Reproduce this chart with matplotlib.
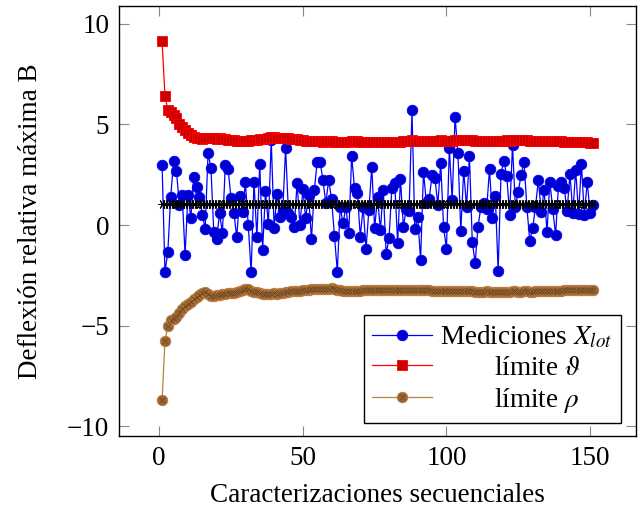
import numpy as np
import matplotlib
matplotlib.use("Agg")
import matplotlib.pyplot as plt
from matplotlib.legend_handler import HandlerTuple
from matplotlib.lines import Line2D

plt.rcParams['font.family'] = ['Liberation Serif', 'DejaVu Serif']
plt.rcParams['mathtext.fontset'] = 'stix'

# ---------------- data ----------------
mediciones = [
    2.98, -2.34, -1.33, 1.41, 3.17, 2.69, 1.00, 1.49, -1.48, 1.49,
    0.36, 2.37, 1.87, 1.41, 0.50, -0.18, 3.57, 2.84, -0.36, -0.71,
    0.58, -0.38, 2.98, 2.77, 1.33, 0.58, -0.61, 1.46, 0.66, 2.12,
    -0.02, -2.34, 2.14, -0.61, 3.02, -1.23, 1.67, 0.03, 4.23, -0.15,
    1.54, 0.41, 0.70, 3.82, 0.58, 0.38, -0.08, 2.07, 0.00, 1.77,
    0.33, 1.49, -0.71, 1.74, 3.15, 3.15, 2.24, 1.08, 2.24, 1.29,
    -0.55, -2.32, 0.91, 0.08, 0.90, -0.41, 3.43, 1.82, 1.58, -0.58,
    0.90, -1.20, 0.75, 2.90, -0.17, 1.40, -0.25, 1.74, -1.44, -0.66,
    1.82, 2.07, -0.88, 2.27, -0.08, 0.80, 0.70, 5.69, -0.21, 0.38,
    -1.74, 2.65, 1.10, 1.30, 2.49, 2.32, 1.00, 3.10, -0.08, -1.21,
    3.82, 1.24, 5.39, 3.57, -0.30, 2.69, 0.90, 3.43, -0.86, -1.87,
    -0.08, 0.90, 1.10, 0.80, 2.79, 0.33, 1.46, -2.27, 2.54, 3.20,
    2.44, 0.50, 3.98, 0.90, 1.66, 2.49, 3.15, 0.90, -0.78, -0.17,
    0.90, 2.24, 0.66, 1.74, -0.36, 2.16, 0.80, -0.50, 1.94, 2.16,
    1.82, 0.70, 2.54, 0.60, 2.74, 0.55, 3.03, 0.50, 2.16, 0.60,
    1.00,
]

limite_sup = [
    9.12, 6.42, 5.72, 5.59, 5.47, 5.31, 5.02, 4.86, 4.73, 4.59,
    4.48, 4.39, 4.31, 4.30, 4.28, 4.30, 4.33, 4.32, 4.30, 4.29,
    4.30, 4.28, 4.26, 4.24, 4.23, 4.21, 4.19, 4.17, 4.16, 4.15,
    4.17, 4.20, 4.22, 4.24, 4.26, 4.27, 4.29, 4.31, 4.35, 4.36,
    4.34, 4.33, 4.32, 4.31, 4.30, 4.28, 4.26, 4.25, 4.22, 4.21,
    4.19, 4.18, 4.16, 4.15, 4.16, 4.15, 4.14, 4.15, 4.16, 4.15,
    4.14, 4.12, 4.13, 4.14, 4.14, 4.13, 4.15, 4.16, 4.15, 4.14,
    4.14, 4.13, 4.12, 4.14, 4.14, 4.13, 4.13, 4.14, 4.13, 4.12,
    4.13, 4.14, 4.13, 4.14, 4.15, 4.15, 4.16, 4.20, 4.19, 4.18,
    4.17, 4.18, 4.18, 4.17, 4.18, 4.18, 4.19, 4.20, 4.19, 4.18,
    4.19, 4.19, 4.22, 4.22, 4.21, 4.21, 4.20, 4.21, 4.20, 4.19,
    4.19, 4.18, 4.18, 4.18, 4.19, 4.19, 4.18, 4.17, 4.18, 4.19,
    4.20, 4.19, 4.21, 4.21, 4.20, 4.20, 4.21, 4.20, 4.19, 4.18,
    4.18, 4.18, 4.17, 4.17, 4.16, 4.16, 4.16, 4.15, 4.15, 4.15,
    4.14, 4.13, 4.13, 4.12, 4.12, 4.11, 4.11, 4.10, 4.10, 4.09,
    4.08,
]

limite_inf = [
    -8.71, -5.77, -5.02, -4.73, -4.69, -4.56, -4.35, -4.15, -4.03, -3.90,
    -3.81, -3.70, -3.60, -3.50, -3.40, -3.35, -3.45, -3.53, -3.52, -3.50,
    -3.48, -3.45, -3.43, -3.40, -3.38, -3.37, -3.33, -3.28, -3.22, -3.18,
    -3.20, -3.28, -3.32, -3.35, -3.38, -3.42, -3.45, -3.44, -3.42, -3.40,
    -3.41, -3.40, -3.37, -3.35, -3.32, -3.30, -3.29, -3.28, -3.26, -3.25,
    -3.24, -3.22, -3.20, -3.20, -3.19, -3.18, -3.17, -3.16, -3.16, -3.15,
    -3.18, -3.21, -3.24, -3.26, -3.27, -3.27, -3.27, -3.26, -3.26, -3.26,
    -3.25, -3.25, -3.24, -3.24, -3.25, -3.24, -3.24, -3.23, -3.23, -3.24,
    -3.24, -3.23, -3.23, -3.23, -3.22, -3.22, -3.22, -3.21, -3.23, -3.24,
    -3.25, -3.24, -3.25, -3.25, -3.26, -3.26, -3.26, -3.27, -3.28, -3.29,
    -3.28, -3.29, -3.27, -3.27, -3.28, -3.28, -3.29, -3.29, -3.30, -3.31,
    -3.31, -3.31, -3.31, -3.30, -3.31, -3.31, -3.31, -3.32, -3.32, -3.31,
    -3.31, -3.31, -3.30, -3.30, -3.31, -3.31, -3.30, -3.30, -3.31, -3.31,
    -3.30, -3.30, -3.29, -3.29, -3.28, -3.28, -3.27, -3.27, -3.26, -3.26,
    -3.25, -3.25, -3.24, -3.24, -3.23, -3.23, -3.22, -3.22, -3.22, -3.21,
    -3.21,
]

nivel_medio = 1.05

x = np.arange(1, len(mediciones) + 1)
linea_media = np.full(len(x), nivel_medio)

xticks = [0, 50, 100, 150]
yticks = [-10, -5, 0, 5, 10]

# ---------------- figure ----------------
FS = 19.5
fig = plt.figure(figsize=(6.44, 5.11), dpi=100)
ax = fig.add_axes([0.1848, 0.1468, 0.8028, 0.8415])

blue_line = '#0000FF'
blue_fill = '#0000CC'
red_line = '#FF0000'
red_fill = '#CC0000'
brown_line = '#BF8040'
brown_fill = '#996633'
brown_x = '#6b4420'

MS = 7.6
ax.plot(x, mediciones, color=blue_line, lw=0.9, marker='o', ms=MS,
        mfc=blue_fill, mec=blue_line, mew=0.6, zorder=3)
ax.plot(x, limite_sup, color=red_line, lw=0.9, marker='s', ms=MS,
        mfc=red_fill, mec=red_line, mew=0.6, zorder=4)
ax.plot(x, limite_inf, color=brown_line, lw=0.9, marker='o', ms=MS,
        mfc=brown_fill, mec=brown_line, mew=0.6, zorder=5)
ax.plot(x, limite_inf, ls='none', marker='x', ms=4.8, mec=brown_x,
        mew=0.5, zorder=6)
ax.plot(x, linea_media, color='black', lw=0.9, marker=(6, 2, 90), ms=6.5,
        mec='black', mew=0.7, zorder=7)

ax.set_xlim(-14, 166)
ax.set_ylim(-10.48, 10.88)
ax.set_xticks(xticks)
ax.set_yticks(yticks)
ax.set_yticklabels(['\u2212' + str(abs(v)) if v < 0 else str(v) for v in yticks])

for s in ax.spines.values():
    s.set_color('black')
    s.set_linewidth(1.0)
ax.tick_params(direction='in', length=7, width=0.8, color='#888888',
               top=True, right=True, labelsize=FS, pad=7)

ax.set_xlabel('Caracterizaciones secuenciales', fontsize=FS, labelpad=9)
ax.set_ylabel('Deflexi\u00f3n relativa m\u00e1xima B', fontsize=FS, labelpad=17)

h_blue = Line2D([], [], color=blue_line, lw=0.9, marker='o', ms=MS,
                mfc=blue_fill, mec=blue_line, mew=0.6)
h_red = Line2D([], [], color=red_line, lw=0.9, marker='s', ms=MS,
               mfc=red_fill, mec=red_line, mew=0.6)
h_brown = Line2D([], [], color=brown_line, lw=0.9, marker='o', ms=MS,
                 mfc=brown_fill, mec=brown_line, mew=0.6)
h_brown_x = Line2D([], [], ls='none', marker='x', ms=4.8, mec=brown_x, mew=0.5)

leg = ax.legend([h_blue, h_red, (h_brown, h_brown_x)],
                ['Mediciones $X_{lot}$',
                 '        l\u00edmite $\\vartheta$',
                 '        l\u00edmite $\\rho$'],
                handler_map={tuple: HandlerTuple(ndivide=1, pad=0)},
                loc='lower right', bbox_to_anchor=(0.97, 0.03),
                borderaxespad=0, fontsize=FS, frameon=True, fancybox=False,
                framealpha=1, edgecolor='black', handlelength=2.2,
                handletextpad=0.3, labelspacing=0.2, borderpad=0.3)
leg.get_frame().set_linewidth(1.0)
leg.set_zorder(10)

fig.savefig('out.png', dpi=100)
